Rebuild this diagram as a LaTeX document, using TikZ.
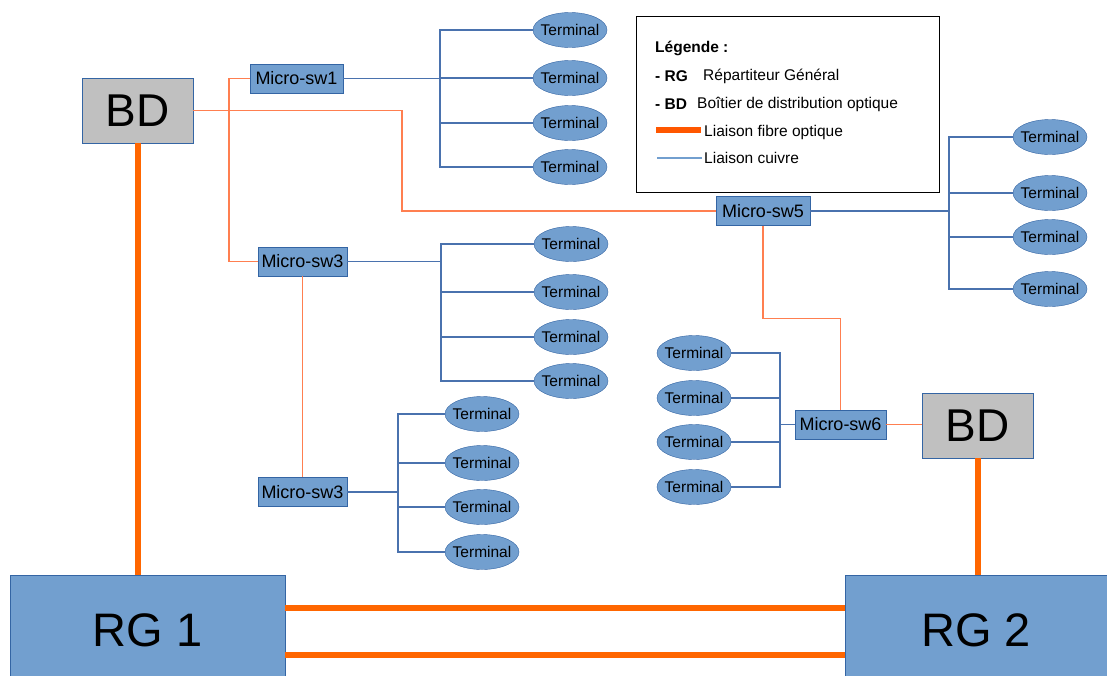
\documentclass[tikz,border=0pt]{standalone}
\usepackage{fontspec}
\setmainfont{Liberation Sans}
\usetikzlibrary{shapes.geometric}
\definecolor{boxblue}{HTML}{729FCF}
\definecolor{edgeblue}{HTML}{3465A4}
\definecolor{bdgray}{HTML}{C0C0C0}
\definecolor{fibreorange}{HTML}{FF6600}
\definecolor{lightorange}{HTML}{FF7F50}
\definecolor{copperblue}{HTML}{4A72AE}

\tikzset{
  sw/.style={rectangle, draw=edgeblue, fill=boxblue, minimum width=91pt, minimum height=29pt, inner sep=2pt, font=\fontsize{18}{20}\selectfont},
  term/.style={ellipse, draw=edgeblue, fill=boxblue, minimum width=74pt, minimum height=35pt, inner ysep=0pt, inner xsep=-6pt, font=\fontsize{15.5}{17}\selectfont},
  bdbox/.style={rectangle, draw=edgeblue, fill=bdgray, minimum width=111pt, minimum height=65pt, font=\fontsize{46}{50}\selectfont},
  rgbox/.style={rectangle, draw=edgeblue, fill=boxblue, minimum height=110pt, anchor=north, font=\fontsize{47}{52}\selectfont},
  fibre/.style={line width=6pt, fibreorange},
  optic/.style={line width=1.2pt, lightorange},
  cuivre/.style={line width=1.1pt, copperblue},
  legtext/.style={anchor=west, inner sep=0pt, font=\fontsize{15.5}{18}\selectfont}
}

\begin{document}
\begin{tikzpicture}[x=1pt, y=-1pt]
  \useasboundingbox[fill=white] (0,0) rectangle (1107,675);

  % Nodes
  \node[bdbox] (bd1) at (137.5,110.5) {BD};
  \node[bdbox] (bd2) at (977.5,425.5) {BD};
  \node[rgbox, minimum width=275pt] (rg1) at (147.5,575) {RG 1};
  \node[rgbox, minimum width=262pt] (rg2) at (976,575) {RG 2};

  \node[sw, minimum width=93pt] (sw1) at (296.5,78.5) {Micro-sw1};
  \node[sw, minimum width=89pt] (sw3a) at (302.5,261.5) {Micro-sw3};
  \node[sw, minimum width=89pt] (sw3b) at (302.5,492) {Micro-sw3};
  \node[sw, minimum width=94pt] (sw5) at (763,211) {Micro-sw5};
  \node[sw] (sw6) at (840.5,424.5) {Micro-sw6};

  % Terminals
  \foreach \i/\y in {1/30,2/78,3/123,4/167}
    \node[term] (ta\i) at (570,\y) {Terminal};
  \foreach \i/\y in {1/244,2/292,3/337,4/381}
    \node[term] (tb\i) at (571,\y) {Terminal};
  \foreach \i/\y in {1/414,2/463,3/507,4/552}
    \node[term] (tc\i) at (482,\y) {Terminal};
  \foreach \i/\y in {1/137,2/193,3/237,4/289}
    \node[term] (td\i) at (1050,\y) {Terminal};
  \foreach \i/\y in {1/353,2/398,3/442,4/487}
    \node[term] (te\i) at (694,\y) {Terminal};

  % Fibre links
  \draw[fibre] (bd1.south) -- (bd1.south |- rg1.north);
  \draw[fibre] (bd2.south) -- (bd2.south |- rg2.north);
  \draw[fibre] ([yshift=22pt]rg1.east) -- ([yshift=22pt]rg2.west);
  \draw[fibre] ([yshift=-25pt]rg1.east) -- ([yshift=-25pt]rg2.west);

  % Optical links to the switches
  \coordinate (hub) at (229,110.5);
  \coordinate (elbow) at (402,110.5);
  \draw[optic] (bd1.east) -- (elbow) |- (sw5.west);
  \draw[optic] (hub) |- (sw1.west);
  \draw[optic] (hub) |- (sw3a.west);
  \draw[optic] (sw3a.south) -- (sw3b.north);
  \draw[optic] (sw5.south) -- ++(0,93) -| (sw6.north);
  \draw[optic] (sw6.east) -- (sw6.east -| bd2.west);

  % Copper links
  \coordinate (busa) at (440,78.5);
  \coordinate (busb) at (441,261.5);
  \coordinate (busc) at (398,492);
  \coordinate (busd) at (949,211);
  \coordinate (buse) at (780,424.5);
  \draw[cuivre] (sw1.east) -- (busa);
  \draw[cuivre] (sw3a.east) -- (busb);
  \draw[cuivre] (sw3b.east) -- (busc);
  \draw[cuivre] (sw5.east) -- (busd);
  \draw[cuivre] (sw6.west) -- (buse);
  \foreach \i in {1,...,4} {
    \draw[cuivre] (busa) |- (ta\i.west);
    \draw[cuivre] (busb) |- (tb\i.west);
    \draw[cuivre] (busc) |- (tc\i.west);
    \draw[cuivre] (busd) |- (td\i.west);
    \draw[cuivre] (buse) |- (te\i.east);
  }

  % Legend
  \node[draw=black, line width=0.8pt, minimum width=303pt, minimum height=176pt, inner sep=0pt] (legend) at (787.5,104) {};
  \node[legtext] (leg0) at (655,48) {\textbf{Légende :}};
  \node[legtext] (leg1) at (655,76) {\textbf{- RG}};
  \node[legtext] (leg1t) at (703,76) {Répartiteur Général};
  \node[legtext] (leg2) at (655,104) {\textbf{- BD}};
  \node[legtext] (leg2t) at (697,104) {Boîtier de distribution optique};
  \coordinate (fa) at (656,130);
  \coordinate (fb) at (701,130);
  \draw[line width=6pt, fibreorange!85!red] (fa) -- (fb);
  \node[legtext] (leg3) at (704,132) {Liaison fibre optique};
  \coordinate (ca) at (657,158);
  \coordinate (cb) at (702,158);
  \draw[line width=1.5pt, boxblue] (ca) -- (cb);
  \node[legtext] (leg4) at (704,158) {Liaison cuivre};
\end{tikzpicture}
\end{document}
